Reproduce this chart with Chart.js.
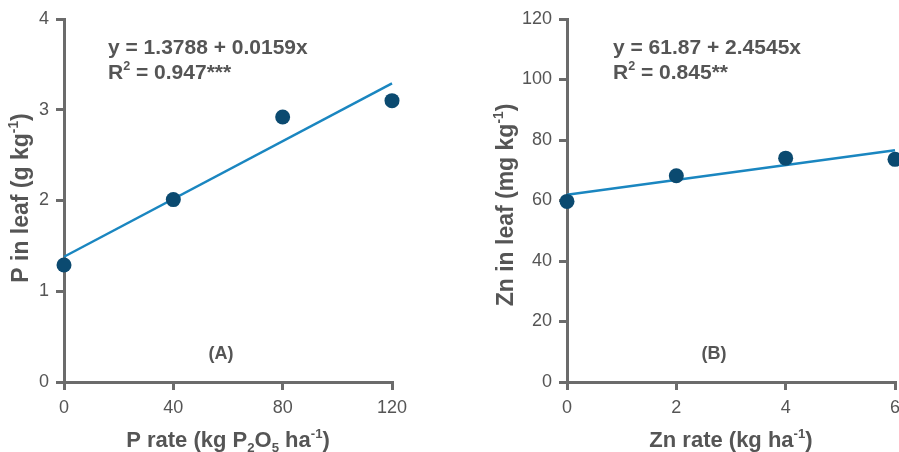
<!DOCTYPE html>
<html>
<head>
<meta charset="utf-8">
<script src="https://cdn.jsdelivr.net/npm/chart.js@4.4.1/dist/chart.umd.min.js"></script>
<style>
  html, body { margin: 0; padding: 0; background: #fff; overflow: hidden; }
  #wrap { position: relative; width: 899px; height: 452px; overflow: hidden; }
  canvas { position: absolute; top: 0; }
  #chartA { left: 0; }
  #chartB { left: 450px; }
</style>
</head>
<body>
<div id="wrap">
  <canvas id="chartA" width="450" height="452"></canvas>
  <canvas id="chartB" width="480" height="452"></canvas>
</div>
<script>
// Panel A - P rate vs P in leaf
var pRates = [0, 40, 80, 120];
var pLeaf = [1.29, 2.01, 2.92, 3.1];
var pFitX = [0, 120];
var pFitY = [1.38, 3.29];
var pXTicks = [0, 40, 80, 120];
var pYTicks = [0, 1, 2, 3, 4];

// Panel B - Zn rate vs Zn in leaf
var znRates = [0, 2, 4, 6];
var znLeaf = [59.7, 68.2, 74.0, 73.6];
var znFitX = [0, 6];
var znFitY = [61.9, 76.6];
var znXTicks = [0, 2, 4, 6];
var znYTicks = [0, 20, 40, 60, 80, 100, 120];

var FONT = "'Liberation Sans', Arial, Helvetica, sans-serif";
var TEXT = "#555555";
var AXIS = "#6b6b6b";
var DOT = "#0b4a70";
var FIT = "#1a86c0";

function pairs(xs, ys) {
  return xs.map(function (x, i) { return { x: x, y: ys[i] }; });
}

// draws text runs with sub/superscripts
function drawRuns(ctx, runs, x, y, size, align) {
  var total = 0;
  runs.forEach(function (r) {
    var s = r.s ? size * 0.6 : size;
    ctx.font = "bold " + s + "px " + FONT;
    r.w = ctx.measureText(r.t).width;
    total += r.w;
  });
  var cx = align === "center" ? x - total / 2 : x;
  runs.forEach(function (r) {
    var s = r.s ? size * 0.6 : size;
    var dy = r.s === "sub" ? size * 0.22 : r.s === "sup" ? -size * 0.42 : 0;
    ctx.font = "bold " + s + "px " + FONT;
    ctx.fillText(r.t, cx, y + dy);
    cx += r.w;
  });
}

var richText = {
  id: "richText",
  afterDraw: function (chart, args, opts) {
    var ctx = chart.ctx;
    ctx.save();
    ctx.fillStyle = TEXT;
    ctx.textBaseline = "alphabetic";
    ctx.textAlign = "left";
    (opts.items || []).forEach(function (it) {
      ctx.save();
      ctx.translate(it.x, it.y);
      if (it.rotate) ctx.rotate(-Math.PI / 2);
      drawRuns(ctx, it.runs, 0, 0, it.size, it.align);
      ctx.restore();
    });
    ctx.restore();
  }
};

function axis(min, max, step, fixed, isY) {
  return {
    type: "linear",
    min: min,
    max: max,
    border: { display: true, color: AXIS, width: 3 },
    grid: { drawOnChartArea: false, drawTicks: true, tickLength: 8, color: AXIS, lineWidth: 3 },
    ticks: { stepSize: step, padding: 7, color: TEXT, font: { family: FONT, size: 18 } },
    afterFit: function (s) {
      if (isY) s.width = fixed; else s.height = fixed;
    }
  };
}

function makeChart(id, pts, fit, xr, yr, yWidth, padRight, items) {
  return new Chart(document.getElementById(id), {
    type: "scatter",
    data: {
      datasets: [
        {
          data: pts,
          backgroundColor: DOT,
          borderWidth: 0,
          pointRadius: 7.5,
          clip: false,
          order: 1
        },
        {
          type: "line",
          data: fit,
          borderColor: FIT,
          borderWidth: 2.5,
          pointRadius: 0,
          fill: false,
          clip: false,
          order: 2
        }
      ]
    },
    options: {
      responsive: false,
      animation: false,
      devicePixelRatio: 1,
      layout: { autoPadding: false, padding: { top: 19, right: padRight, left: 0, bottom: 0 } },
      plugins: {
        legend: { display: false },
        tooltip: { enabled: false },
        richText: { items: items }
      },
      scales: {
        x: axis(xr[0], xr[xr.length - 1], xr[1] - xr[0], 70, false),
        y: axis(yr[0], yr[yr.length - 1], yr[1] - yr[0], yWidth, true)
      }
    },
    plugins: [richText]
  });
}

makeChart("chartA", pairs(pRates, pLeaf), pairs(pFitX, pFitY), pXTicks, pYTicks, 64, 58, [
  { x: 108, y: 54, size: 21, runs: [{ t: "y = 1.3788 + 0.0159x" }] },
  { x: 108, y: 79, size: 21, runs: [{ t: "R" }, { t: "2", s: "sup" }, { t: " = 0.947***" }] },
  { x: 221, y: 359, size: 18, align: "center", runs: [{ t: "(A)" }] },
  { x: 228, y: 447, size: 22, align: "center",
    runs: [{ t: "P rate (kg P" }, { t: "2", s: "sub" }, { t: "O" }, { t: "5", s: "sub" }, { t: " ha" }, { t: "-1", s: "sup" }, { t: ")" }] },
  { x: 28, y: 198, size: 23, align: "center", rotate: true,
    runs: [{ t: "P in leaf (g kg" }, { t: "-1", s: "sup" }, { t: ")" }] }
]);

makeChart("chartB", pairs(znRates, znLeaf), pairs(znFitX, znFitY), znXTicks, znYTicks, 117, 35, [
  { x: 163, y: 54, size: 21, runs: [{ t: "y = 61.87 + 2.4545x" }] },
  { x: 163, y: 79, size: 21, runs: [{ t: "R" }, { t: "2", s: "sup" }, { t: " = 0.845**" }] },
  { x: 264, y: 359, size: 18, align: "center", runs: [{ t: "(B)" }] },
  { x: 281, y: 447, size: 22, align: "center",
    runs: [{ t: "Zn rate (kg ha" }, { t: "-1", s: "sup" }, { t: ")" }] },
  { x: 63, y: 205, size: 23, align: "center", rotate: true,
    runs: [{ t: "Zn in leaf (mg kg" }, { t: "-1", s: "sup" }, { t: ")" }] }
]);
</script>
</body>
</html>
